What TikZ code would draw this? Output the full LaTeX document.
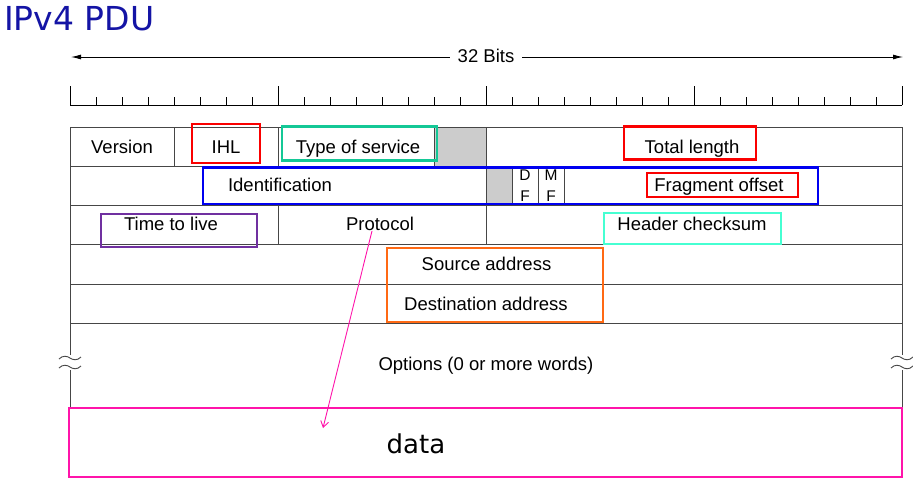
\documentclass[tikz,border=0pt]{standalone}
\usepackage{fontspec}
\setmainfont{Liberation Sans}
\newfontfamily\comicfont{DejaVu Sans}
\usetikzlibrary{arrows.meta}
\definecolor{titleblue}{RGB}{20,20,165}
\definecolor{gridgray}{RGB}{70,70,70}
\definecolor{fillgray}{RGB}{204,204,204}
\definecolor{hlred}{RGB}{250,0,0}
\definecolor{hlteal}{RGB}{20,200,150}
\definecolor{hlaqua}{RGB}{70,255,210}
\definecolor{hlblue}{RGB}{0,0,240}
\definecolor{hlpurple}{RGB}{112,48,160}
\definecolor{hlorange}{RGB}{255,105,20}
\definecolor{hlpink}{RGB}{255,20,170}
\begin{document}
\begin{tikzpicture}[x=1pt,y=-1pt,
  grid/.style={draw=gridgray, line width=1pt},
  lbl/.style={font=\fontsize{18.5}{20}\selectfont, inner sep=0pt, anchor=base},
  small/.style={font=\fontsize{15.5}{17}\selectfont, inner sep=0pt},
  hl/.style={line width=2.6pt},
  brk/.style={draw=gridgray, line width=0.9pt},
  bitarrow/.style={draw=black, line width=0.9pt, -{Latex[length=10pt,width=5pt]}},
  pinkarrow/.style={draw=hlpink, line width=0.9pt, -{Straight Barb[length=6pt,width=8pt]}}]
\useasboundingbox (0,0) rectangle (913,488);
\fill[white] (0,0) rectangle (913,488);

% title
\node[anchor=base west, inner sep=0pt, text=titleblue,
      font=\comicfont\fontsize{33}{36}\selectfont] (title) at (4,30) {IPv4 PDU};

% 32 bits arrow
\node[lbl] (bits) at (486,62.5) {32 Bits};
\coordinate (bitsL) at (71,57);
\coordinate (bitsR) at (903,57);
\draw[bitarrow] ([xshift=-8pt]bits.west |- bitsL) -- (bitsL);
\draw[bitarrow] ([xshift=8pt]bits.east |- bitsR) -- (bitsR);

% ruler
\draw[black, line width=0.9pt] (70,105) -- (902,105);
\foreach \i in {0,...,32}{
  \pgfmathsetmacro{\tx}{70+26*\i}
  \ifnum\numexpr\i-8*(\i/8)\relax=0
    \draw[black, line width=0.9pt] (\tx,105) -- (\tx,86);
  \else
    \draw[black, line width=0.9pt] (\tx,105) -- (\tx,97);
  \fi
}

% gray fills
\fill[fillgray] (434,127) rectangle (486,166);
\fill[fillgray] (486,166) rectangle (512,205);

% table grid
\foreach \y in {127,166,205,244,284,323}{
  \draw[grid] (70,\y) -- (902,\y);
}
\draw[grid] (70,127) -- (70,355);
\draw[grid] (70,370) -- (70,408);
\draw[grid] (902,127) -- (902,355);
\draw[grid] (902,370) -- (902,408);
\foreach \x in {174,278,434,486}{ \draw[grid] (\x,127) -- (\x,166); }
\foreach \x in {486,512,538,564}{ \draw[grid] (\x,166) -- (\x,205); }
\foreach \x in {278,486}{ \draw[grid] (\x,205) -- (\x,244); }

% break marks
\foreach \bx in {70,902}{
  \foreach \by in {358,367}{
    \draw[brk] (\bx-11,\by+1) .. controls (\bx-7,\by-3) and (\bx-3,\by-2) .. (\bx,\by)
               .. controls (\bx+3,\by+2) and (\bx+7,\by+3) .. (\bx+11,\by-1);
  }
}

% field labels
\node[lbl] (version) at (122,153) {Version};
\node[lbl] (ihl) at (226,153) {IHL};
\node[lbl] (tos) at (358,153) {Type of service};
\node[lbl] (totlen) at (692,153) {Total length};
\node[lbl] (ident) at (280,191.7) {Identification};
\node[small] (dfD) at (525,175.5) {D};
\node[small] (dfF) at (525,196.5) {F};
\node[small] (mfM) at (551,175.5) {M};
\node[small] (mfF) at (551,196.5) {F};
\node[lbl] (fragoff) at (719,191.7) {Fragment offset};
\node[lbl] (ttl) at (171,230) {Time to live};
\node[lbl] (protocol) at (380,230.5) {Protocol};
\node[lbl] (checksum) at (692,230) {Header checksum};
\node[lbl] (srcaddr) at (486.5,270.5) {Source address};
\node[lbl] (dstaddr) at (486,310) {Destination address};
\node[lbl] (options) at (486,370) {Options (0 or more words)};

% highlight boxes
\draw[hl, hlred] (192,124) rectangle (260,163);
\draw[hl, hlteal] (282,126.5) rectangle (437,160.5);
\draw[hl, hlred] (624,126.5) rectangle (756,159.5);
\draw[hl, hlblue] (203,167.5) rectangle (818,204);
\draw[hl, hlred] (647,173) rectangle (798,197);
\draw[hl, hlpurple] (101,214) rectangle (257,247);
\draw[hl, hlaqua] (604,213) rectangle (781,244);
\draw[hl, hlorange] (387,248) rectangle (603,322);

% data box
\draw[hlpink, line width=1.6pt] (69,408) rectangle (902,477);
\node[anchor=base, inner sep=0pt, font=\comicfont\fontsize{26}{28}\selectfont] (data) at (416,453) {data};

% arrow from protocol into data
\coordinate (arrowend) at (323,428);
\draw[pinkarrow] ([xshift=-8pt]protocol.south) -- (arrowend);
\end{tikzpicture}
\end{document}
